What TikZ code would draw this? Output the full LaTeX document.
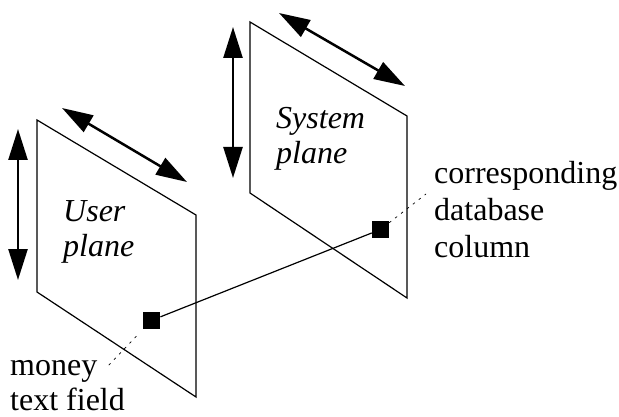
\documentclass[tikz,border=0pt]{standalone}
\usepackage{fontspec}
\setmainfont{Liberation Serif}
\usetikzlibrary{positioning,arrows.meta}
\begin{document}
\begin{tikzpicture}[x=1pt, y=-1pt, font=\fontsize{32}{35}\selectfont,
  plane/.style={draw, line width=1.2pt, line join=miter},
  dim/.style={line width=2.5pt, {Triangle[length=31pt,width=19pt]}-{Triangle[length=31pt,width=19pt]}},
  fld/.style={fill=black, inner sep=0pt, minimum size=17pt},
  cue/.style={line width=0.7pt, dash pattern=on 2.5pt off 5pt},
  lbl/.style={anchor=west, inner sep=0pt, align=left},
  ttl/.style={lbl, font=\fontsize{32}{35}\selectfont\itshape}
]
  \useasboundingbox (0,0) rectangle (619,417);
  \draw[plane] (37,120) -- (196,215) -- (196,397) -- (37,292) -- cycle;
  \draw[plane] (250,22) -- (407,116) -- (407,298) -- (250,193) -- cycle;
  \draw[dim] (18,129) -- (18,280);
  \draw[dim] (62,108) -- (187,182);
  \draw[dim] (233,27) -- (233,178);
  \draw[dim] (279,13) -- (405,86);
  \node[ttl] (uplane) at (63,232) {User\\plane};
  \node[ttl] (splane) at (276,138.5) {System\\plane};
  \node[lbl, font=\fontsize{32}{37}\selectfont] (dbcol) at (434,210) {corresponding\\database\\column};
  \node[lbl] (money) at (10,385.5) {money\\text field};
  \node[fld] (ufld) at (151.7,320.3) {};
  \node[fld] (sfld) at (380.5,229.5) {};
  \coordinate (ucue) at (106,368);
  \coordinate (scue) at (426,194);
  \draw[line width=1.2pt] (ufld) -- (sfld);
  \draw[cue, shorten <=10pt] (ufld) -- (ucue);
  \draw[cue] (sfld) -- (scue);
\end{tikzpicture}
\end{document}
